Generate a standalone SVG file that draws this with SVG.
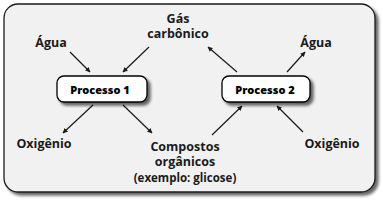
<svg xmlns="http://www.w3.org/2000/svg" width="383" height="203" viewBox="0 0 383 203">
<style>
.lbl{font-family:"Open Sans","Noto Sans",sans-serif;font-weight:700;font-size:12.5px;fill:#1a1a1a;text-anchor:middle}
.sm{font-size:11.5px}
.pt{font-family:"Open Sans","Noto Sans",sans-serif;font-weight:800;font-size:11px;fill:#000;text-anchor:middle}
.box{fill:#fff;stroke:#000;stroke-width:1.3}
.ar{stroke:#1a1a1a;stroke-width:1.2;fill:none;marker-end:url(#ah)}
</style>
<defs>
<filter id="sh" x="-10%" y="-10%" width="125%" height="130%">
<feGaussianBlur in="SourceAlpha" stdDeviation="1.5"/>
<feOffset dx="3" dy="3" result="b"/>
<feComponentTransfer><feFuncA type="linear" slope="0.6"/></feComponentTransfer>
<feMerge><feMergeNode/><feMergeNode in="SourceGraphic"/></feMerge>
</filter>
<marker id="ah" viewBox="0 0 10 10" refX="9" refY="5" markerWidth="5" markerHeight="5" orient="auto" markerUnits="userSpaceOnUse">
<path d="M0,0 L10,5 L0,10 Z" fill="#1a1a1a"/>
</marker>
</defs>
<rect id="frame" x="4" y="4" width="371" height="188" rx="14" fill="#f1f1f1" stroke="#1a1a1a" stroke-width="1.3" filter="url(#sh)"/>
<g id="connectors">
<line class="ar" x1="70" y1="52" x2="90" y2="72"/>
<line class="ar" x1="149" y1="47" x2="123" y2="72"/>
<line class="ar" x1="237" y1="72" x2="208" y2="47"/>
<line class="ar" x1="287" y1="72" x2="305" y2="52"/>
<line class="ar" x1="93" y1="105" x2="63" y2="133"/>
<line class="ar" x1="123" y1="105" x2="152" y2="133"/>
<line class="ar" x1="212" y1="135" x2="242" y2="106"/>
<line class="ar" x1="303" y1="132" x2="277" y2="106"/>
</g>
<g id="processo1">
<rect class="box" x="57" y="76" width="90" height="26" rx="7" filter="url(#sh)"/>
<text class="pt" x="100" y="94">Processo 1</text>
</g>
<g id="processo2">
<rect class="box" x="222" y="76" width="88" height="26" rx="7" filter="url(#sh)"/>
<text class="pt" x="265" y="94">Processo 2</text>
</g>
<g id="agua1"><text class="lbl" x="51" y="47">Água</text></g>
<g id="gas"><text class="lbl" x="178" y="23">Gás</text><text class="lbl" x="178" y="38">carbônico</text></g>
<g id="agua2"><text class="lbl" x="316" y="47">Água</text></g>
<g id="oxigenio1"><text class="lbl" x="44" y="148">Oxigênio</text></g>
<g id="compostos">
<text class="lbl" x="185" y="151">Compostos</text>
<text class="lbl" x="185" y="166">orgânicos</text>
<text class="lbl sm" x="185" y="182">(exemplo: glicose)</text>
</g>
<g id="oxigenio2"><text class="lbl" x="332" y="148">Oxigênio</text></g>
</svg>
